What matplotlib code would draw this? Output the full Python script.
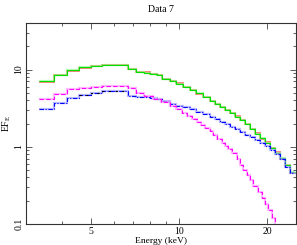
import numpy as np
import matplotlib
matplotlib.use("Agg")
import matplotlib.pyplot as plt
from matplotlib.ticker import FixedLocator, NullFormatter, FixedFormatter

# bin edges (keV) shared by the green / red / blue spectra
edges = [3.33, 3.75, 4.16, 4.57, 5.01, 5.47, 6.69, 7.15, 7.63, 7.94, 8.39, 8.79,
         9.29, 9.80, 10.32, 10.88, 11.47, 12.09, 12.74, 13.26, 13.79, 14.35,
         14.92, 15.52, 16.15, 16.80, 17.47, 18.17, 18.91, 19.67, 20.46, 21.28,
         22.13, 23.03, 23.95, 24.9]
green_vals = [7.11, 8.51, 9.79, 10.62, 11.13, 11.37, 10.24, 9.30, 9.09, 8.87,
              8.43, 7.60, 7.05, 6.54, 5.98, 5.47, 4.92, 4.37, 3.93, 3.60, 3.29,
              3.01, 2.75, 2.45, 2.22, 1.95, 1.70, 1.47, 1.28, 1.12, 0.97, 0.836,
              0.705, 0.572, 0.478]
red_vals = [6.85, 8.40, 9.70, 10.55, 11.05, 11.45, 10.10, 9.20, 9.15, 8.80,
            8.50, 7.55, 7.00, 6.60, 5.95, 5.50, 4.88, 4.40, 3.90, 3.62, 3.26,
            3.03, 2.72, 2.47, 2.20, 1.97, 1.68, 1.49, 1.26, 1.14, 0.95, 0.85,
            0.69, 0.585, 0.46]
blue_vals = [3.05, 3.73, 4.24, 4.68, 4.95, 5.34, 4.50, 4.41, 4.41, 4.30, 4.12,
             3.88, 3.60, 3.41, 3.24, 3.05, 2.85, 2.63, 2.44, 2.26, 2.09, 1.95,
             1.82, 1.68, 1.57, 1.44, 1.33, 1.23, 1.12, 1.01, 0.909, 0.794,
             0.684, 0.555, 0.464]
black_edges = [4.57, 5.01, 5.47, 6.69]
black_vals = [4.68, 4.95, 5.34]

# magenta spectrum has its own binning
mag_edges = [3.33, 3.75, 4.16, 4.57, 5.01, 5.47, 6.69, 7.15, 7.63, 8.15, 8.70,
             9.29, 9.80, 10.21, 10.63, 11.05, 11.50, 11.87, 12.25, 12.74, 13.08,
             13.44, 13.98, 14.35, 14.72, 15.16, 15.73, 16.15, 16.58, 17.03,
             17.47, 17.94, 18.65, 19.17, 19.67, 20.19, 20.75, 21.28, 21.79]
mag_vals = [4.12, 4.85, 5.55, 5.84, 6.02, 6.07, 5.72, 5.03, 4.54, 4.12, 3.82,
            3.37, 3.05, 2.75, 2.51, 2.26, 2.07, 1.92, 1.77, 1.59, 1.44, 1.27,
            1.13, 1.02, 0.923, 0.818, 0.684, 0.589, 0.507, 0.437, 0.376, 0.314,
            0.263, 0.220, 0.184, 0.153, 0.121, 0.09]

x_major = [5, 10, 20]
x_minor = [3, 4, 6, 7, 8, 9]
y_major = [0.1, 1, 10]

plt.rcParams['font.family'] = ['Liberation Serif', 'DejaVu Serif']
plt.rcParams['mathtext.fontset'] = 'custom'
plt.rcParams['mathtext.rm'] = 'Liberation Serif'

fig = plt.figure(figsize=(2.97, 2.45), dpi=100)
ax = fig.add_axes([0.0859, 0.0857, 0.9097, 0.8204])

# pale under-layers (error boxes) then the step lines
ax.stairs(red_vals, edges, baseline=None, color='#ff5050', lw=1.3, alpha=0.8)
ax.stairs(green_vals, edges, baseline=None, color='#90ff90', lw=1.6, alpha=0.6)
ax.stairs(green_vals, edges, baseline=None, color='#00e000', lw=0.8)
ax.stairs(blue_vals, edges, baseline=None, color='#a0a0ff', lw=1.6, alpha=0.7)
ax.stairs(blue_vals, edges, baseline=None, color='#0000ff', lw=0.8,
          linestyle=(0, (4, 1.5, 1, 1.5)))
ax.stairs(black_vals, black_edges, baseline=None, color='black', lw=0.8,
          linestyle=(0, (2, 4)))
ax.stairs(mag_vals, mag_edges, baseline=None, color='#ffa0ff', lw=1.6, alpha=0.7)
ax.stairs(mag_vals, mag_edges, baseline=None, color='#ff00ff', lw=0.8,
          linestyle=(0, (4, 2)))

ax.set_xscale('log')
ax.set_yscale('log')
ax.set_xlim(3, 25)
ax.set_ylim(0.1, 40)

ax.xaxis.set_major_locator(FixedLocator(x_major))
ax.xaxis.set_major_formatter(FixedFormatter([str(v) for v in x_major]))
ax.xaxis.set_minor_locator(FixedLocator(x_minor))
ax.xaxis.set_minor_formatter(NullFormatter())
ax.yaxis.set_major_locator(FixedLocator(y_major))
ax.yaxis.set_major_formatter(FixedFormatter(['0.1', '1', '10']))
ax.yaxis.set_minor_formatter(NullFormatter())

ax.tick_params(which='both', direction='in', top=True, right=True,
               labelsize=7, width=0.6, color='#444444')
ax.tick_params(which='major', length=4.5)
ax.tick_params(which='minor', length=2.5)
ax.tick_params(axis='x', pad=2)
ax.tick_params(axis='y', pad=1.5)
for lab in ax.get_yticklabels():
    lab.set_rotation(90)
    lab.set_va('center')

for s in ax.spines.values():
    s.set_linewidth(0.8)
    s.set_color('#333333')

ax.set_title('Data 7', fontsize=7, pad=8)
ax.set_xlabel('Energy (keV)', fontsize=6.8)
ax.xaxis.set_label_coords(0.5, -0.064)
ax.xaxis.label.set_va('top')
ax.set_ylabel(r'EF$_{\rm E}$', fontsize=7, labelpad=1)

fig.savefig('out.png', dpi=100)
